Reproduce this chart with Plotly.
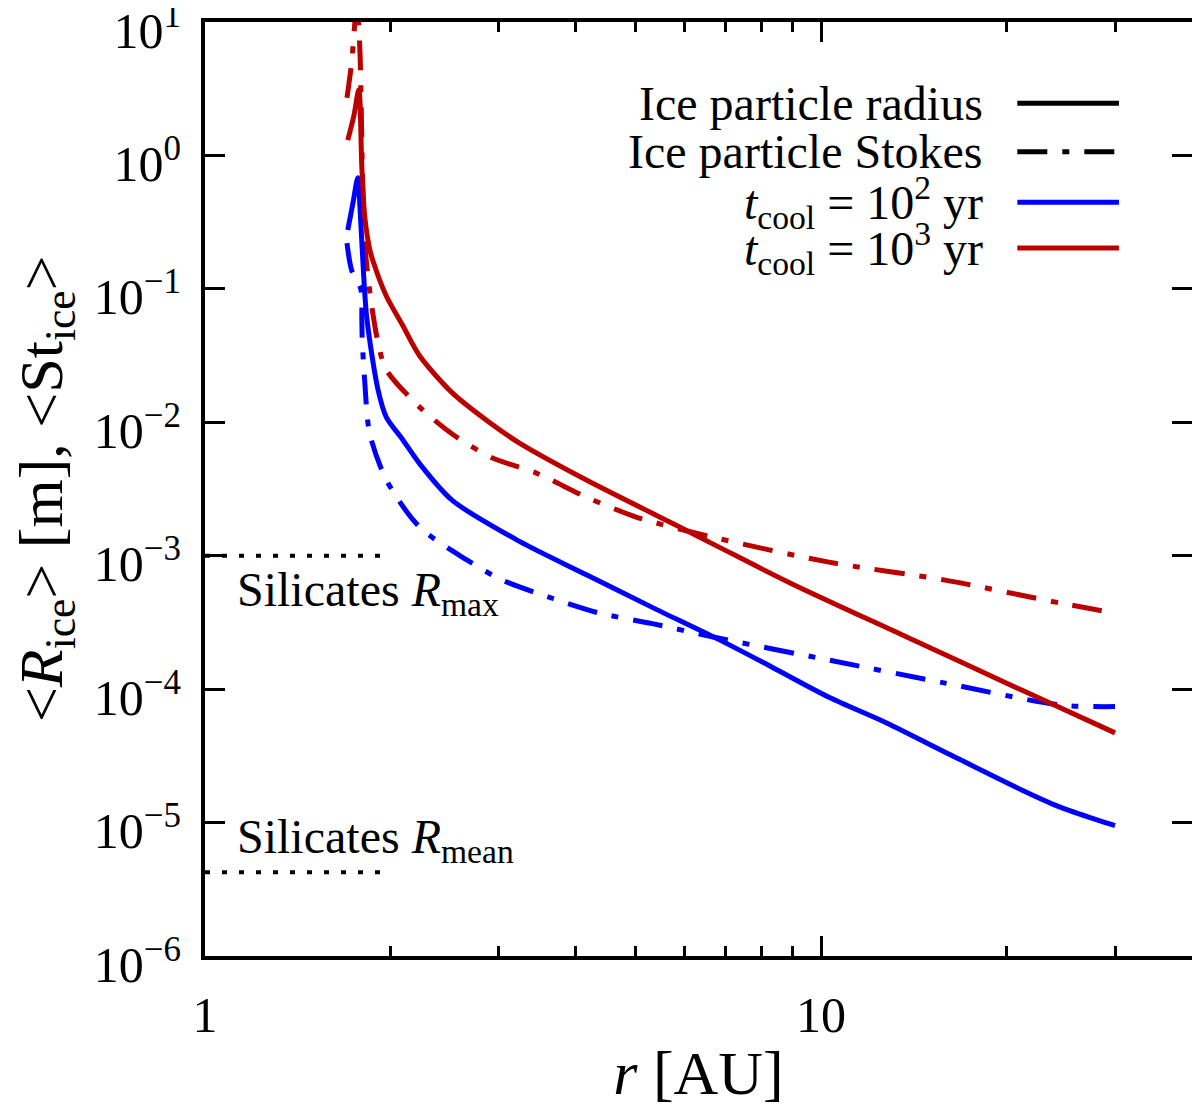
import numpy as np
import plotly.graph_objects as go

# values: r in AU, radius in m, Stokes number
r_rad_1e2 = [1.705, 1.74, 1.77, 1.785, 1.80, 1.83, 1.91, 1.97, 2.09, 2.23, 2.52, 3.24, 4.16,
             5.32, 6.83, 8.33, 10.3, 12.8, 15.9, 21.2, 24.5, 28.2, 30.0]
rad_1e2 = [0.276, 0.45, 0.68, 0.40, 0.195, 0.0615, 0.0174, 0.0109, 0.0075, 0.0049, 0.0026,
           0.00128, 7.2e-4, 4.1e-4, 2.35e-4, 1.46e-4, 8.7e-5, 5.56e-5, 3.37e-5, 1.75e-5,
           1.30e-5, 1.04e-5, 9.5e-6]

r_st_1e2 = [1.70, 1.73, 1.79, 1.797, 1.80, 1.817, 1.85, 1.97, 2.23, 2.66, 3.03, 3.66, 4.37,
            5.32, 6.71, 10.3, 15.9, 24.5, 30.0]
st_1e2 = [0.22, 0.138, 0.10, 0.058, 0.041, 0.02, 8.3e-3, 3.69e-3, 1.64e-3, 9.3e-4, 6.6e-4,
          4.8e-4, 3.71e-4, 3.1e-4, 2.45e-4, 1.65e-4, 1.11e-4, 7.6e-5, 7.4e-5]

r_rad_1e3 = [1.705, 1.745, 1.777, 1.797, 1.817, 1.85, 1.872, 1.97, 2.09, 2.23, 2.52, 2.86,
             3.24, 4.16, 5.32, 5.82, 6.83, 8.94, 13.8, 21.2, 30.0]
rad_1e3 = [1.3, 2.0, 3.1, 0.82, 0.345, 0.2, 0.164, 0.088, 0.054, 0.0315, 0.0166, 0.0104,
           6.98e-3, 3.69e-3, 2.08e-3, 1.69e-3, 1.16e-3, 6.2e-4, 2.45e-4, 9.8e-5, 4.7e-5]

r_st_1e3 = [1.70, 1.73, 1.765, 1.784, 1.817, 1.872, 1.92, 1.97, 2.23, 2.56, 2.93, 3.45, 4.16,
            5.01, 6.66, 10.3, 15.9, 24.5, 30.0]
st_1e3 = [2.7, 5.0, 14.0, 6.2, 0.22, 0.066, 0.035, 0.0246, 0.013, 7.75e-3, 5.4e-3, 4.16e-3,
          2.75e-3, 1.95e-3, 1.38e-3, 8.95e-4, 6.56e-4, 4.41e-4, 3.71e-4]

# silicate reference sizes
sil_r = [1.0, 1.98]
sil_rmax = 1e-3
sil_rmean = 4.25e-6

ytick_vals = [1e-6, 1e-5, 1e-4, 1e-3, 1e-2, 1e-1, 1e0, 1e1]
ytick_text = ["10<sup>−6</sup>", "10<sup>−5</sup>", "10<sup>−4</sup>", "10<sup>−3</sup>",
              "10<sup>−2</sup>", "10<sup>−1</sup>", "10<sup>0</sup>", "10<sup>1</sup>"]
xtick_vals = [1, 10]
xtick_text = ["1", "10"]
xminor_vals = [2, 3, 4, 5, 6, 7, 8, 9, 20, 30]

BLUE = "#0000ff"
RED = "#bb0000"
DASHDOT = "30px,15px,7px,15px"
FONT = "Liberation Serif"
LW = 5

fig = go.Figure()

fig.add_trace(go.Scatter(x=sil_r, y=[sil_rmax] * 2, mode="lines",
                         line=dict(color="black", width=4, dash="5px,12px")))
fig.add_trace(go.Scatter(x=sil_r, y=[sil_rmean] * 2, mode="lines",
                         line=dict(color="black", width=4, dash="5px,12px")))

fig.add_trace(go.Scatter(x=r_st_1e2, y=st_1e2, mode="lines",
                         line=dict(color=BLUE, width=LW, dash=DASHDOT, shape="spline", smoothing=0.8)))
fig.add_trace(go.Scatter(x=r_st_1e3, y=st_1e3, mode="lines",
                         line=dict(color=RED, width=LW, dash=DASHDOT, shape="spline", smoothing=0.8)))
fig.add_trace(go.Scatter(x=r_rad_1e2, y=rad_1e2, mode="lines",
                         line=dict(color=BLUE, width=LW, shape="spline", smoothing=0.8)))
fig.add_trace(go.Scatter(x=r_rad_1e3, y=rad_1e3, mode="lines",
                         line=dict(color=RED, width=LW, shape="spline", smoothing=0.8)))

# legend drawn by hand: text right-aligned, line sample on the right
legend_rows = [
    ("Ice particle radius", "black", "solid", 0.913),
    ("Ice particle Stokes", "black", DASHDOT, 0.861),
    ("<i>t</i><sub>cool</sub> = 10<sup>2</sup> yr", BLUE, "solid", 0.807),
    ("<i>t</i><sub>cool</sub> = 10<sup>3</sup> yr", RED, "solid", 0.758),
]
for label, col, dash, yy in legend_rows:
    fig.add_annotation(x=0.790, y=yy, xref="paper", yref="paper", text=label,
                       showarrow=False, xanchor="right", yanchor="middle",
                       font=dict(size=48, color="black", family=FONT))
    fig.add_shape(type="line", xref="paper", yref="paper", x0=0.823, x1=0.926,
                  y0=yy, y1=yy, line=dict(color=col, width=LW, dash=dash))

fig.add_annotation(x=0.030, y=0.389, xref="paper", yref="paper",
                   text="Silicates <i>R</i><sub>max</sub>", showarrow=False,
                   xanchor="left", yanchor="middle", font=dict(size=48, family=FONT))
fig.add_annotation(x=0.030, y=0.124, xref="paper", yref="paper",
                   text="Silicates <i>R</i><sub>mean</sub>", showarrow=False,
                   xanchor="left", yanchor="middle", font=dict(size=48, family=FONT))

# y title as a rotated annotation so it can sit further out, as in the original
fig.add_annotation(x=-0.162, y=0.5, xref="paper", yref="paper", textangle=-90,
                   text="&lt;<i>R</i><sub>ice</sub>&gt; [m], &lt;St<sub>ice</sub>&gt;",
                   showarrow=False, xanchor="center", yanchor="middle",
                   font=dict(size=62, family=FONT, color="black"))

fig.update_xaxes(type="log", range=[0, np.log10(40)], showline=True, linewidth=4,
                 linecolor="black", mirror="ticks", ticks="inside", ticklen=20,
                 tickwidth=3, tickcolor="black", tickvals=xtick_vals, ticktext=xtick_text,
                 minor=dict(tickvals=xminor_vals, ticks="inside", ticklen=10, tickwidth=3,
                            tickcolor="black", showgrid=False),
                 showgrid=False, zeroline=False, ticklabelstandoff=12, automargin=False,
                 tickfont=dict(size=50, family=FONT, color="black"),
                 title=dict(text="<i>r</i> [AU]", font=dict(size=62, family=FONT, color="black"),
                            standoff=10))
fig.update_yaxes(type="log", range=[-6, 1], showline=True, linewidth=4,
                 linecolor="black", mirror="ticks", ticks="inside", ticklen=20,
                 tickwidth=3, tickcolor="black", tickvals=ytick_vals, ticktext=ytick_text,
                 showgrid=False, zeroline=False, ticklabelstandoff=10, automargin=False,
                 ticklabeloverflow="allow", ticklabelshift=8,
                 tickfont=dict(size=50, family=FONT, color="black"))

# margins allow for the page's own 8px body offset
fig.update_layout(width=1200, height=1110, showlegend=False,
                  plot_bgcolor="white", paper_bgcolor="white",
                  margin=dict(l=197, r=16, t=14, b=162),
                  font=dict(family=FONT, color="black"))

fig.write_html("out.html")
